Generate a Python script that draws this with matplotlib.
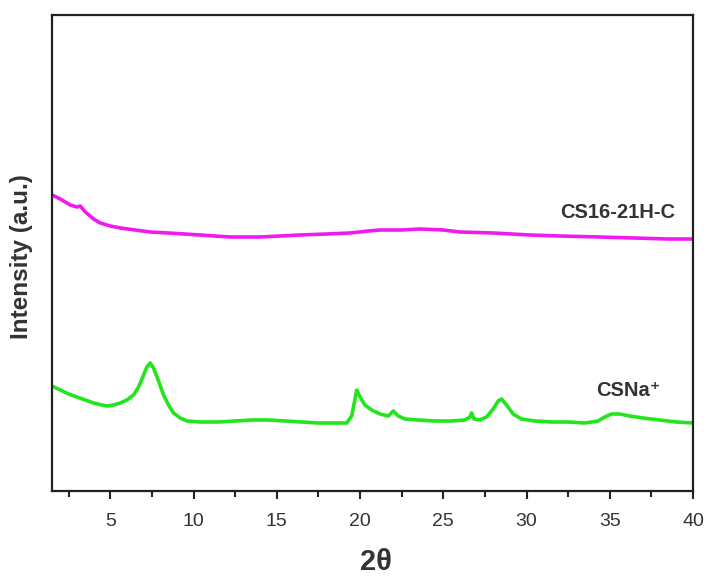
import numpy as np
from matplotlib import pyplot as plt

plt.rcParams['font.family'] = ['Liberation Sans', 'DejaVu Sans']

# CSNa+ pattern (2theta, intensity a.u.)
csna_x = [1.5, 2.0, 2.5, 3.0, 3.5, 4.0, 4.5, 4.8, 5.2, 5.6, 6.0, 6.4, 6.7, 7.0, 7.2, 7.4,
          7.6, 7.9, 8.2, 8.5, 8.8, 9.2, 9.6, 10.4, 11.5, 12.5, 13.5, 14.5, 15.5, 16.5,
          17.5, 18.5, 19.2, 19.5, 19.7, 19.8, 20.0, 20.3, 20.7, 21.2, 21.7, 22.0, 22.3,
          22.7, 23.5, 24.5, 25.5, 26.3, 26.6, 26.7, 26.85, 27.2, 27.6, 28.0, 28.3, 28.5,
          28.8, 29.2, 29.7, 30.5, 31.5, 32.5, 33.5, 34.3, 34.7, 35.1, 35.6, 36.2, 37.0,
          38.0, 39.0, 40.0]
csna_y = [105, 101, 97, 94, 91, 88, 86, 85, 86, 88, 91, 96, 104, 116, 124, 128,
          123, 110, 96, 86, 78, 73, 70, 69, 69, 70, 71, 71, 70, 69,
          68, 68, 68, 75, 92, 101, 94, 86, 81, 77, 75, 80, 75,
          72, 71, 70, 70, 71, 74, 78, 72, 71, 74, 82, 90, 92,
          86, 77, 72, 70, 69, 69, 68, 70, 74, 77, 77, 75, 73,
          71, 69, 68]

# CS16-21H-C pattern
cs16_x = [1.5, 2.0, 2.6, 3.0, 3.2, 3.5, 4.0, 4.4, 5.0, 5.6, 6.5, 7.4, 8.5, 10.4, 12.2,
          14.0, 16.4, 18.0, 19.4, 20.5, 21.2, 22.5, 23.6, 25.0, 26.0, 28.0, 30.2, 32.0,
          34.4, 36.5, 38.5, 40.0]
cs16_y = [296, 292, 286, 284, 285, 279, 272, 268, 265, 263, 261, 259, 258, 256, 254,
          254, 256, 257, 258, 260, 261, 261, 262, 261, 259, 258, 256, 255,
          254, 253, 252, 252]

xticks = [5, 10, 15, 20, 25, 30, 35, 40]

fig = plt.figure(figsize=(7.08, 5.76), dpi=100)
ax = fig.add_axes([52/708, 1 - 491/576, (693-52)/708, (491-15)/576])

ax.plot(csna_x, csna_y, color='#22e51c', lw=2.6)
ax.plot(cs16_x, cs16_y, color='#f01af0', lw=2.6)

ax.set_xlim(1.5, 40)
ax.set_ylim(0, 476)
ax.set_xticks(xticks)
ax.set_xticks(np.arange(2.5, 40, 5), minor=True)
ax.set_yticks([])
ax.tick_params(axis='x', which='major', direction='out', length=6, width=1.5,
               labelsize=14, colors='#222222', labelcolor='#333333', pad=10)
ax.tick_params(axis='x', which='minor', direction='out', length=4, width=1.5, colors='#222222')
for sp in ax.spines.values():
    sp.set_linewidth(1.6)
    sp.set_color('#222222')

ax.text(38.9, 279, 'CS16-21H-C', ha='right', va='center', fontsize=14.5,
        fontweight='bold', color='#333333')
ax.text(34.2, 101, 'CSNa\u207a', ha='left', va='center', fontsize=14.5,
        fontweight='bold', color='#333333')

fig.text(22/708, 1 - 257/576, 'Intensity (a.u.)', rotation=90, ha='center', va='center',
         fontsize=17.5, fontweight='bold', color='#333333')
fig.text(376/708, 1 - 562/576, '2\u03b8', ha='center', va='center',
         fontsize=21, fontweight='bold', color='#333333')

fig.savefig('out.png', dpi=100)
